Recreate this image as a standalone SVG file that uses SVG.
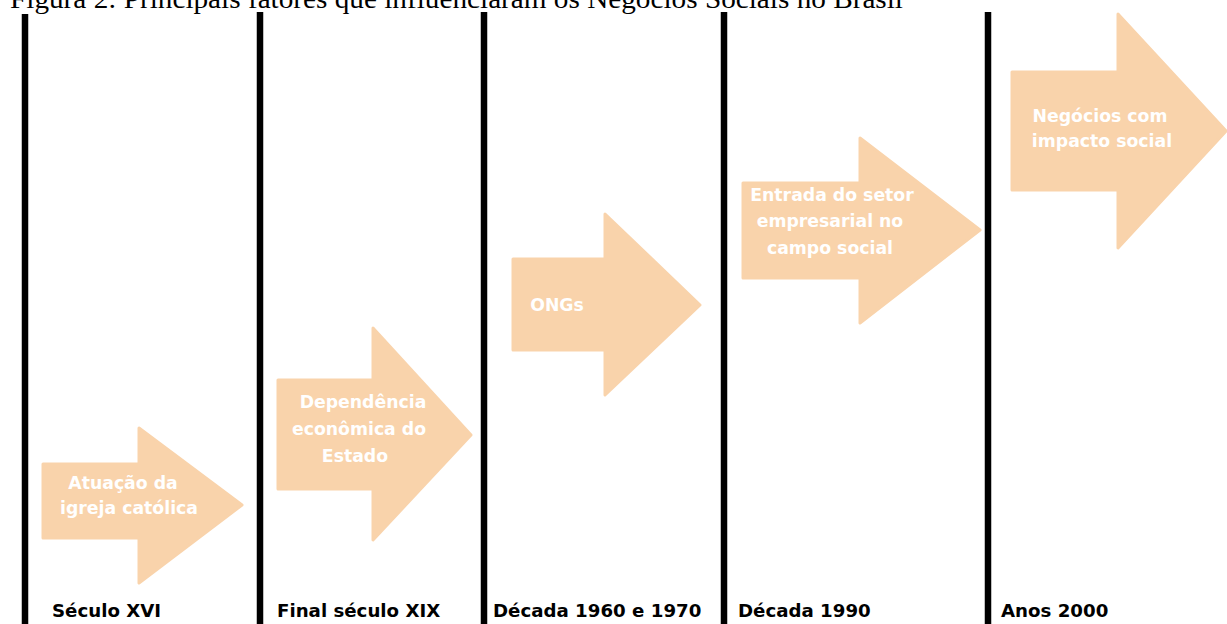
<svg xmlns="http://www.w3.org/2000/svg" width="1227" height="624" viewBox="0 0 1227 624">
<style>
.title{font-family:"Liberation Serif","Times New Roman",serif;font-size:27px;fill:#000}
.bar{stroke:#000;stroke-width:6.5;fill:none}
.arrow{fill:#F9D3AB;stroke:#F9D3AB;stroke-width:3;stroke-linejoin:round}
.in{font-family:"DejaVu Sans",sans-serif;font-weight:bold;font-size:17.3px;fill:#FFFFFF;text-anchor:middle}
.lab{font-family:"DejaVu Sans",sans-serif;font-weight:bold;font-size:18.2px;fill:#000}
</style>
<rect width="1227" height="624" fill="#fff"/>
<text class="title" x="10" y="8" textLength="893" lengthAdjust="spacingAndGlyphs">Figura 2: Principais fatores que influenciaram os Negócios Sociais no Brasil</text>
<g id="connectors">
<line class="bar" x1="25" y1="14" x2="25" y2="624"/>
<line class="bar" x1="260" y1="12" x2="260" y2="624"/>
<line class="bar" x1="484" y1="12" x2="484" y2="624"/>
<line class="bar" x1="724" y1="12" x2="724" y2="624"/>
<line class="bar" x1="988" y1="12" x2="988" y2="624"/>
</g>
<g id="n1">
<path class="arrow" d="M43,464 H139 V428 L242,505 L139,583 V538 H43 Z"/>
<text class="in" x="123" y="489">Atuação da</text>
<text class="in" x="129" y="514">igreja católica</text>
<text class="lab" x="52" y="617">Século XVI</text>
</g>
<g id="n2">
<path class="arrow" d="M278,380 H373 V328 L471,435 L373,540 V489 H278 Z"/>
<text class="in" x="363" y="408">Dependência</text>
<text class="in" x="359" y="435">econômica do</text>
<text class="in" x="355" y="462">Estado</text>
<text class="lab" x="277" y="617">Final século XIX</text>
</g>
<g id="n3">
<path class="arrow" d="M513,259 H605 V214 L700,305 L605,395 V350 H513 Z"/>
<text class="in" x="557" y="311">ONGs</text>
<text class="lab" x="493" y="617">Década 1960 e 1970</text>
</g>
<g id="n4">
<path class="arrow" d="M743,183 H860 V138 L980,230 L860,323 V278 H743 Z"/>
<text class="in" x="832" y="201">Entrada do setor</text>
<text class="in" x="830" y="227">empresarial no</text>
<text class="in" x="830" y="254">campo social</text>
<text class="lab" x="738" y="617">Década 1990</text>
</g>
<g id="n5">
<path class="arrow" d="M1012,72 H1118 V14 L1226,131 L1118,248 V190 H1012 Z"/>
<text class="in" x="1100" y="122">Negócios com</text>
<text class="in" x="1102" y="147">impacto social</text>
<text class="lab" x="1001" y="617">Anos 2000</text>
</g>
</svg>
